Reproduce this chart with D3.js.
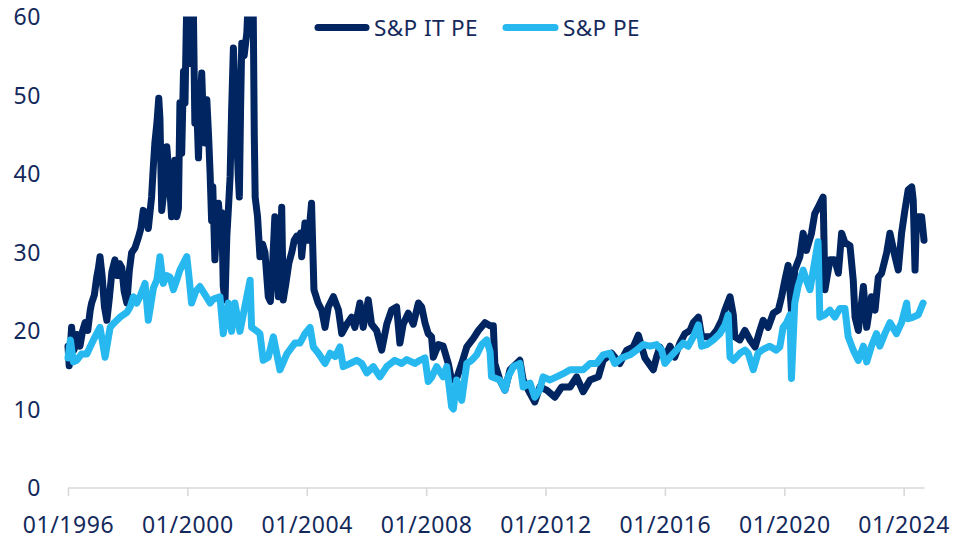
<!DOCTYPE html>
<html>
<head>
<meta charset="utf-8">
<script src="https://cdn.jsdelivr.net/npm/d3@7"></script>
<style>
  html, body { margin: 0; padding: 0; background: #ffffff; }
  svg { display: block; }
  text { font-family: "Noto Sans", sans-serif; }
</style>
</head>
<body>
<svg id="chart" width="953" height="541"></svg>
<script>
// ---- DATA (decimal years and P/E values) ----
const seriesNames = ["S&P IT PE", "S&P PE"];
const yTickValues = [0, 10, 20, 30, 40, 50, 60];
const xTickYears = [1996, 2000, 2004, 2008, 2012, 2016, 2020, 2024];

const itYears = [
  1996.00,1996.04,1996.12,1996.20,1996.30,1996.40,1996.48,1996.57,1996.66,1996.74,1996.79,1996.88,1996.96,1997.02,1997.07,1997.14,1997.22,1997.30,1997.38,1997.47,1997.57,1997.66,1997.73,1997.80,1997.88,1997.97,1998.05,1998.13,1998.24,1998.36,1998.44,1998.52,1998.62,1998.69,1998.80,1998.86,1998.91,1998.98,1999.04,1999.08,1999.14,1999.22,1999.31,1999.38,1999.47,1999.53,1999.58,1999.64,1999.70,1999.75,1999.81,1999.87,1999.92,1999.96,1999.99,2000.04,2000.09,2000.13,2000.20,2000.25,2000.30,2000.37,2000.43,2000.48,2000.53,2000.59,2000.65,2000.71,2000.76,2000.81,2000.85,2000.92,2000.97,2001.04,2001.10,2001.15,2001.20,2001.26,2001.32,2001.38,2001.43,2001.48,2001.54,2001.60,2001.65,2001.70,2001.74,2001.78,2001.82,2001.90,2001.99,2002.05,2002.12,2002.20,2002.24,2002.27,2002.35,2002.43,2002.52,2002.60,2002.71,2002.78,2002.85,2002.93,2003.00,2003.05,2003.12,2003.16,2003.21,2003.30,2003.40,2003.50,2003.58,2003.66,2003.72,2003.79,2003.83,2003.94,2004.05,2004.16,2004.24,2004.38,2004.50,2004.61,2004.72,2004.89,2005.06,2005.17,2005.34,2005.50,2005.61,2005.78,2005.89,2006.06,2006.17,2006.34,2006.51,2006.68,2006.84,2007.01,2007.12,2007.23,2007.40,2007.57,2007.74,2007.85,2007.96,2008.07,2008.18,2008.24,2008.41,2008.57,2008.74,2008.85,2009.02,2009.19,2009.36,2009.58,2009.75,2009.97,2010.14,2010.25,2010.30,2010.47,2010.64,2010.81,2011.03,2011.14,2011.25,2011.48,2011.64,2011.81,2012.04,2012.31,2012.54,2012.82,2013.04,2013.26,2013.49,2013.77,2013.93,2014.21,2014.49,2014.72,2014.94,2015.11,2015.33,2015.61,2015.72,2015.83,2016.00,2016.17,2016.33,2016.50,2016.67,2016.84,2016.95,2017.12,2017.23,2017.40,2017.56,2017.73,2017.90,2018.01,2018.18,2018.29,2018.34,2018.51,2018.68,2018.85,2019.02,2019.18,2019.29,2019.46,2019.63,2019.80,2019.91,2020.02,2020.13,2020.24,2020.35,2020.52,2020.63,2020.74,2020.91,2021.02,2021.13,2021.30,2021.36,2021.53,2021.69,2021.81,2021.92,2022.03,2022.20,2022.31,2022.37,2022.48,2022.65,2022.76,2022.92,2023.04,2023.15,2023.26,2023.43,2023.54,2023.71,2023.82,2023.93,2024.04,2024.15,2024.27,2024.32,2024.38,2024.43,2024.60,2024.68
];
const itValues = [
  18.0,15.5,20.4,17.5,19.5,18.0,19.8,21.0,20.0,22.5,23.5,24.5,26.8,28.0,29.4,27.0,23.0,21.3,24.0,27.5,29.0,27.0,28.5,28.0,25.0,23.5,27.5,29.9,30.5,31.9,33.0,35.3,35.0,33.0,37.0,41.0,43.9,46.5,49.6,47.0,35.3,38.0,43.4,40.0,34.5,38.0,41.7,34.5,35.5,49.0,42.6,53.0,49.0,58.0,63.0,60.5,54.0,63.0,61.0,46.4,50.0,42.0,49.0,52.8,47.0,43.9,49.4,44.7,40.0,34.0,38.3,29.0,33.0,36.2,33.0,35.0,25.6,23.9,32.0,36.0,39.6,48.0,56.0,50.0,45.0,40.0,37.0,48.0,56.6,55.0,57.9,63.0,62.0,63.0,45.0,37.0,34.5,29.4,31.0,29.9,24.3,23.7,28.0,34.5,28.0,24.3,30.0,35.7,23.9,26.0,28.6,30.0,31.5,32.0,31.5,32.4,29.4,33.7,31.5,36.2,25.2,23.5,22.6,20.4,23.0,24.3,22.6,19.6,20.8,21.7,20.4,23.5,20.4,23.9,20.8,20.0,17.5,20.8,22.6,23.0,18.4,20.8,22.2,20.8,23.5,23.0,21.0,19.6,19.2,16.6,18.2,18.0,15.8,13.7,13.9,15.8,17.9,19.0,20.0,21.0,20.6,20.6,15.8,13.7,12.4,15.0,15.8,16.2,13.7,12.0,10.9,12.8,12.4,11.5,12.8,12.8,14.1,12.2,13.7,14.1,16.2,17.1,15.8,17.5,17.9,19.4,16.5,15.0,16.6,17.9,16.6,18.0,16.6,18.4,19.6,20.0,21.0,21.7,19.2,19.2,19.2,20.0,21.3,22.6,24.3,22.0,19.2,18.8,20.0,18.8,17.9,20.0,21.3,20.4,22.2,22.6,24.3,26.4,28.3,22.5,27.7,29.4,32.4,30.2,32.4,34.9,35.7,37.0,25.2,29.0,29.0,27.3,32.4,31.2,30.8,26.4,21.7,20.0,25.6,20.4,24.3,22.6,26.8,27.3,29.9,32.4,29.4,27.7,32.4,35.3,37.9,38.3,36.6,27.7,34.5,34.5,31.5
];

const spYears = [
  1996.00,1996.08,1996.18,1996.29,1996.45,1996.63,1996.75,1996.85,1997.07,1997.24,1997.41,1997.55,1997.74,1997.97,1998.08,1998.19,1998.30,1998.41,1998.58,1998.69,1998.86,1998.98,1999.08,1999.19,1999.30,1999.42,1999.53,1999.65,1999.75,1999.98,2000.05,2000.14,2000.28,2000.42,2000.60,2000.76,2000.87,2001.09,2001.20,2001.37,2001.48,2001.59,2001.76,2001.99,2002.10,2002.15,2002.30,2002.43,2002.54,2002.71,2002.88,2003.10,2003.33,2003.60,2003.77,2003.94,2004.11,2004.22,2004.39,2004.61,2004.78,2004.95,2005.11,2005.22,2005.45,2005.67,2005.84,2006.01,2006.23,2006.45,2006.68,2006.95,2007.18,2007.35,2007.62,2007.79,2007.96,2008.07,2008.18,2008.35,2008.57,2008.69,2008.85,2008.91,2009.02,2009.19,2009.36,2009.52,2009.69,2009.86,2010.03,2010.14,2010.19,2010.47,2010.64,2010.75,2010.92,2011.14,2011.25,2011.48,2011.64,2011.81,2011.92,2012.15,2012.37,2012.59,2012.82,2013.04,2013.26,2013.49,2013.71,2013.93,2014.16,2014.32,2014.55,2014.83,2015.05,2015.27,2015.50,2015.72,2015.89,2016.00,2016.17,2016.39,2016.61,2016.78,2016.95,2017.12,2017.23,2017.40,2017.62,2017.84,2018.01,2018.12,2018.18,2018.29,2018.51,2018.68,2018.79,2018.96,2019.12,2019.29,2019.51,2019.73,2019.85,2019.96,2020.08,2020.19,2020.24,2020.35,2020.46,2020.63,2020.74,2020.86,2020.97,2021.13,2021.19,2021.36,2021.53,2021.69,2021.86,2022.03,2022.14,2022.31,2022.48,2022.65,2022.76,2022.92,2023.09,2023.20,2023.37,2023.54,2023.76,2023.93,2024.10,2024.15,2024.32,2024.49,2024.65
];
const spValues = [
  16.5,18.8,16.0,16.2,17.0,17.0,18.0,18.8,20.4,16.6,20.4,21.0,21.7,22.3,23.0,24.3,23.5,24.3,26.0,21.3,25.4,26.5,29.4,26.0,27.0,26.8,25.2,26.5,27.7,29.4,27.0,23.5,25.0,25.6,24.5,23.5,24.0,24.3,19.6,23.5,19.9,23.5,19.9,24.3,26.4,20.4,20.0,19.6,16.2,16.6,19.2,15.0,17.0,18.4,18.4,19.6,20.4,17.9,17.1,15.8,17.1,16.7,17.9,15.4,15.8,16.2,15.8,14.6,15.4,14.1,15.4,16.2,15.8,16.3,15.8,16.2,16.5,13.5,14.0,15.4,14.1,15.4,10.3,10.0,13.7,11.1,15.8,16.2,16.9,18.2,18.8,17.3,14.1,13.7,12.4,14.1,15.4,15.8,12.8,13.3,11.5,12.5,14.1,13.7,14.1,14.5,15.0,15.0,15.0,15.8,15.8,16.9,17.1,15.8,16.5,16.9,17.5,18.2,18.0,18.2,17.5,15.8,16.6,17.5,18.4,18.0,19.2,20.7,18.0,18.2,18.8,19.6,20.7,22.0,16.6,16.2,17.1,17.5,17.1,15.0,17.1,17.6,18.0,17.5,17.9,20.4,21.0,22.0,13.9,23.5,25.6,27.7,26.4,25.2,27.7,31.3,21.7,22.0,22.6,21.7,22.8,22.8,19.2,17.5,16.2,18.0,16.0,18.0,19.6,18.0,19.6,21.0,19.6,21.0,23.5,21.5,21.7,22.0,23.5
];

// ---- HELPERS ----
function yearToDate(t) {
  const y = Math.floor(t);
  const a = new Date(y, 0, 1), b = new Date(y + 1, 0, 1);
  return new Date(+a + (t - y) * (b - a));
}

const itData = itYears.map((t, i) => ({ date: yearToDate(t), value: itValues[i] }));
const spData = spYears.map((t, i) => ({ date: yearToDate(t), value: spValues[i] }));

const colors = ["#002561", "#26b8ef"];
const textColor = "#14295b";
const fontFam = "Noto Sans, sans-serif";

const svg = d3.select("#chart");
const W = 953, H = 541;

const x = d3.scaleTime()
  .domain([yearToDate(1996), yearToDate(2024.68)])
  .range([68, 924]);
const y = d3.scaleLinear()
  .domain([0, 60])
  .range([487.5, 16.5]);

// clip at the 60 line
svg.append("defs").append("clipPath").attr("id", "plotclip")
  .append("rect")
  .attr("x", 0).attr("y", y(60))
  .attr("width", W).attr("height", H - y(60));

// x axis
const xAxis = d3.axisBottom(x)
  .tickValues(xTickYears.map(yearToDate))
  .tickFormat(d3.timeFormat("%m/%Y"))
  .tickSize(8.5)
  .tickSizeOuter(0);
const gx = svg.append("g")
  .attr("transform", `translate(0,${y(0)})`)
  .call(xAxis);
gx.select(".domain").attr("stroke", "#d9d9d9").attr("stroke-width", 1.6);
gx.selectAll(".tick line").attr("stroke", "#d9d9d9").attr("stroke-width", 1.6);
gx.selectAll(".tick text")
  .attr("fill", textColor)
  .attr("font-size", 23)
  .attr("letter-spacing", 0.6)
  .attr("font-family", fontFam)
  .attr("dy", "0")
  .attr("y", 45.5);

// y axis (labels only)
const yAxis = d3.axisLeft(y)
  .tickValues(yTickValues)
  .tickFormat(d3.format("d"))
  .tickSize(0)
  .tickPadding(27);
const gy = svg.append("g")
  .attr("transform", "translate(68,0)")
  .call(yAxis);
gy.select(".domain").remove();
gy.selectAll(".tick text")
  .attr("fill", textColor)
  .attr("font-size", 23)
  .attr("letter-spacing", 0.6)
  .attr("font-family", fontFam)
  .attr("dy", "0.36em");

// lines
const line = d3.line()
  .x(d => x(d.date))
  .y(d => y(d.value))
  .curve(d3.curveLinear);

const plot = svg.append("g").attr("clip-path", "url(#plotclip)");
[itData, spData].forEach((data, i) => {
  plot.append("path")
    .datum(data)
    .attr("fill", "none")
    .attr("stroke", colors[i])
    .attr("stroke-width", 7)
    .attr("stroke-linejoin", "round")
    .attr("stroke-linecap", "round")
    .attr("d", line);
});

// legend
const legendItems = [
  { name: seriesNames[0], color: colors[0], x0: 318, x1: 366, tx: 374 },
  { name: seriesNames[1], color: colors[1], x0: 506, x1: 555, tx: 563 }
];
const lg = svg.append("g");
legendItems.forEach(it => {
  lg.append("line")
    .attr("x1", it.x0).attr("x2", it.x1)
    .attr("y1", 27.5).attr("y2", 27.5)
    .attr("stroke", it.color)
    .attr("stroke-width", 7)
    .attr("stroke-linecap", "round");
  lg.append("text")
    .attr("x", it.tx).attr("y", 27.5)
    .attr("dy", "0.36em")
    .attr("fill", textColor)
    .attr("font-size", 22.5)
    .attr("letter-spacing", 0.4)
    .text(it.name);
});
</script>
</body>
</html>
